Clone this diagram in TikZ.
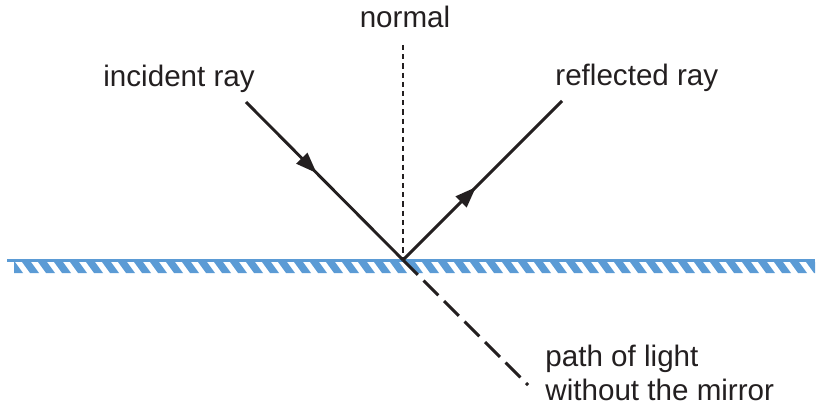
\documentclass[tikz,border=0pt]{standalone}
\usepackage{fontspec}
\setmainfont{Liberation Sans}
\usetikzlibrary{arrows.meta, positioning, calc, decorations.markings}
\definecolor{mirrorblue}{HTML}{5B9BD5}
\definecolor{inkgray}{HTML}{231F20}

\begin{document}
\begin{tikzpicture}[
  x=0.5pt, y=-0.5pt,
  lbl/.style={font=\fontsize{14.8}{17}\selectfont, text=inkgray, inner sep=0pt},
  ray/.style={line width=1.45pt, inkgray},
  midarrow/.style={postaction={decorate}, decoration={markings,
    mark=at position #1 with {\arrow{Triangle[length=10.5pt, width=7.5pt]}}}},
  normalline/.style={line width=0.6pt, inkgray, dash pattern=on 2.6pt off 2pt},
  ghostray/.style={line width=1.45pt, inkgray, dash pattern=on 10.5pt off 4pt},
]

% Frame
\useasboundingbox (0,0) rectangle (822,405);

% Labels
\node[lbl, anchor=base] (normal) at (405,28) {normal};
\node[lbl, anchor=base west] (inclbl) at (103,87) {incident ray};
\node[lbl, anchor=base west] (refllbl) at (555,86) {reflected ray};
\node[lbl, anchor=base west, align=left] (pathlbl) at (545,400)
  {path of light\\without the mirror};

% Key points
\coordinate (O) at (403,260);
\coordinate (inc) at (246,102);
\coordinate (refl) at (562,101);
\coordinate (ntop) at (403,45);
\coordinate (past) at (528,385);

% Mirror
\fill[mirrorblue] (7,258.5) rectangle (815,262);
\begin{scope}
  \clip (14,262) rectangle (815,273);
  \foreach \x in {6,22,...,822}
    \fill[mirrorblue] (\x,262) -- ++(9,0) -- ++(8,11) -- ++(-9,0) -- cycle;
\end{scope}

% Normal
\draw[normalline] (ntop) -- (O);

% Rays
\draw[ray, midarrow=0.45] (inc) -- (O);
\draw[ray, midarrow=0.46] (O) -- (refl);
\draw[ghostray] (O) -- (past);

\end{tikzpicture}
\end{document}
